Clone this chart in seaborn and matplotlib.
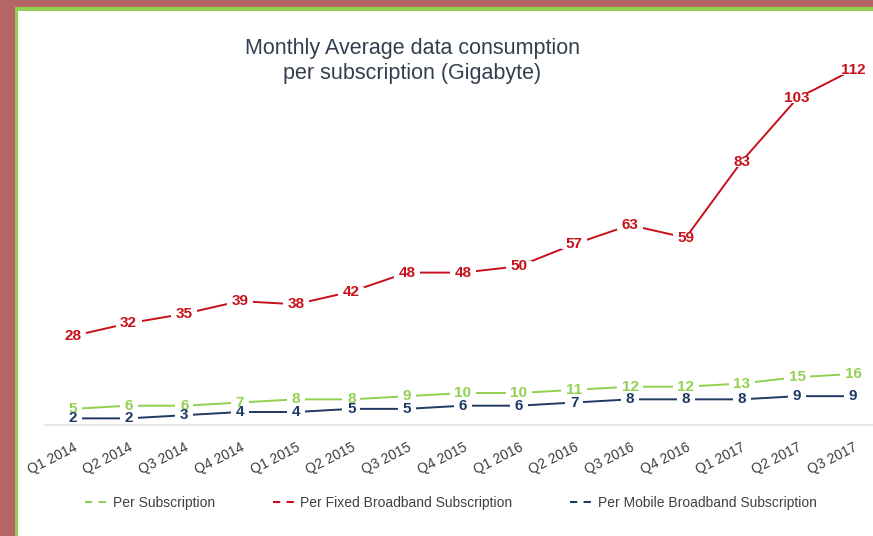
import pandas as pd
import matplotlib.pyplot as plt
import seaborn as sns
from matplotlib.patches import Rectangle
from matplotlib.lines import Line2D
from matplotlib.path import Path

quarters = ['Q1 2014', 'Q2 2014', 'Q3 2014', 'Q4 2014',
            'Q1 2015', 'Q2 2015', 'Q3 2015', 'Q4 2015',
            'Q1 2016', 'Q2 2016', 'Q3 2016', 'Q4 2016',
            'Q1 2017', 'Q2 2017', 'Q3 2017']
per_sub = [5, 6, 6, 7, 8, 8, 9, 10, 10, 11, 12, 12, 13, 15, 16]
per_fixed = [28, 32, 35, 39, 38, 42, 48, 48, 50, 57, 63, 59, 83, 103, 112]
per_mobile = [2, 2, 3, 4, 4, 5, 5, 6, 6, 7, 8, 8, 8, 9, 9]

series = {
    'Per Subscription': (per_sub, '#92D050'),
    'Per Fixed Broadband Subscription': (per_fixed, '#C8101A'),
    'Per Mobile Broadband Subscription': (per_mobile, '#1F3864'),
}

sns.set_style('white')
plt.rcParams['font.family'] = ['Liberation Sans', 'DejaVu Sans']

fig = plt.figure(figsize=(8.73, 5.36), dpi=100)
fig.patch.set_facecolor('#B56565')

# green frame and white card
fig.add_artist(Rectangle((14.5 / 873, 0), 1, (536 - 7.3) / 536,
                         transform=fig.transFigure, facecolor='#92D050',
                         edgecolor='none', zorder=0))
fig.add_artist(Rectangle((18.3 / 873, 0), 1, (536 - 11) / 536,
                         transform=fig.transFigure, facecolor='white',
                         edgecolor='none', zorder=0))

ax = fig.add_axes([45 / 873, (536 - 424.7) / 536, 828 / 873, 0.739])
ax.set_facecolor('none')


def box_marker(n_digits):
    # white box (in px) that hides the line around a label of n digits
    w, h = 8.5 * n_digits + 10, 10
    r = h / w / 2
    path = Path([(-0.5, -r), (0.5, -r), (0.5, r), (-0.5, r), (-0.5, -r)],
                [Path.MOVETO, Path.LINETO, Path.LINETO, Path.LINETO, Path.CLOSEPOLY])
    return path, (w * 0.72) ** 2


x = list(range(len(quarters)))
for name, (vals, color) in series.items():
    df = pd.DataFrame({'x': x, 'y': vals})
    df['n'] = df['y'].astype(str).str.len()
    sns.lineplot(data=df, x='x', y='y', ax=ax, color=color, linewidth=1.4, zorder=2)
    for n, grp in df.groupby('n'):
        path, s = box_marker(n)
        ax.scatter(grp['x'], grp['y'], marker=path, s=s, c='white',
                   linewidths=0, zorder=3)
    for xi, v in zip(x, vals):
        ax.text(xi, v, str(v), ha='center', va='center', color=color,
                fontsize=11, fontweight='bold', zorder=4)

ax.set_xlim(-0.5, 14.36)
ax.set_ylim(0, 125)
ax.set_xticks(x)
ax.set_xticklabels(quarters, rotation=27, ha='right', rotation_mode='anchor',
                   color='#3A3A3A', fontsize=10)
ax.tick_params(axis='x', length=0, pad=11)
ax.set_yticks([])
ax.set_xlabel('')
ax.set_ylabel('')
for s in ['top', 'right', 'left']:
    ax.spines[s].set_visible(False)
ax.spines['bottom'].set_color('#E3E3E3')
ax.spines['bottom'].set_linewidth(1.2)

fig.text(0.472, (536 - 61) / 536,
         'Monthly Average data consumption\nper subscription (Gigabyte)',
         ha='center', va='center', fontsize=15.5, color='#333F50',
         linespacing=1.3)

handles = [Line2D([0], [0], color=c, linewidth=1.5, linestyle=(0, (3.5, 3)))
           for _, (_, c) in series.items()]
fig.legend(handles, list(series.keys()), loc='center',
           bbox_to_anchor=(451 / 873, (536 - 503) / 536), ncol=3,
           frameon=False, fontsize=10, handlelength=1.9, handletextpad=0.1,
           columnspacing=4.15, labelcolor='#404040')

fig.savefig('out.png', dpi=100, facecolor=fig.get_facecolor())
